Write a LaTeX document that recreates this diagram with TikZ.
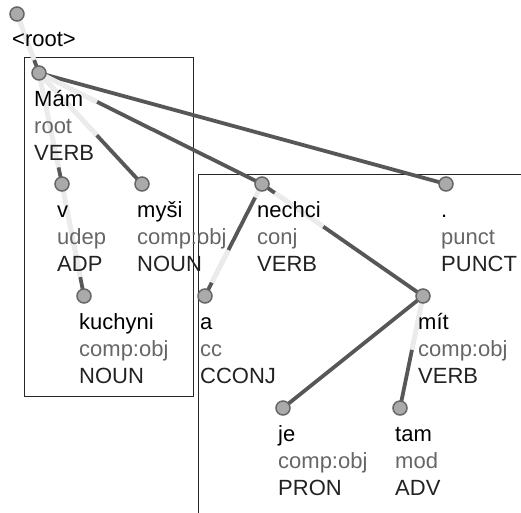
\documentclass[tikz,border=0pt]{standalone}
\usepackage{fontspec}
\setmainfont{Liberation Sans}
\usetikzlibrary{calc}

\definecolor{edgegray}{HTML}{575757}
\definecolor{halogray}{HTML}{EBEBEB}
\definecolor{tokfill}{HTML}{AAAAAA}
\definecolor{tokline}{HTML}{666666}
\definecolor{relgray}{HTML}{666666}
\definecolor{posgray}{HTML}{222222}

\tikzset{
  tok/.style={circle,fill=tokfill,draw=tokline,line width=1.5pt,minimum size=14pt,inner sep=0pt},
  dep/.style={edgegray,line width=3.8pt},
  halo/.style={halogray,line width=4.8pt},
  lbl/.style={anchor=base west,inner sep=0pt,font=\fontsize{22}{27}\selectfont},
  word/.style={lbl,text=black},
  rel/.style={lbl,text=relgray},
  upos/.style={lbl,text=posgray},
  frame/.style={draw=black!85,line width=1pt}
}

\begin{document}
\begin{tikzpicture}[x=1pt,y=-1pt]
\useasboundingbox (0,0) rectangle (521,512);

% subtree frames
\draw[frame] (24,57) rectangle (193,396);
\draw[frame] (198,174) rectangle (530,520);

% tokens
\coordinate (root) at (17,14);
\coordinate (mam) at (39,73);
\coordinate (v) at (62,184);
\coordinate (mysi) at (142,184);
\coordinate (nechci) at (262,184);
\coordinate (punct) at (446,184);
\coordinate (kuchyni) at (84,296);
\coordinate (a) at (205,296);
\coordinate (mit) at (423,296);
\coordinate (je) at (283,408);
\coordinate (tam) at (400,408);

% dependencies
\draw[dep] (root) -- (mam);
\draw[dep] (mam) -- (v);
\draw[dep] (mam) -- (mysi);
\draw[dep] (mam) -- (nechci);
\draw[dep] (mam) -- (punct);
\draw[dep] (v) -- (kuchyni);
\draw[dep] (nechci) -- (a);
\draw[dep] (nechci) -- (mit);
\draw[dep] (mit) -- (je);
\draw[dep] (mit) -- (tam);

% light parts under the labels
\draw[halo] (root) -- ($(root)!0.78!(mam)$);
\draw[halo] (mam) -- ($(mam)!0.85!(v)$);
\draw[halo] (mam) -- ($(mam)!0.56!(mysi)$);
\draw[halo] (mam) -- ($(mam)!0.26!(nechci)$);
\draw[halo] (v) -- ($(v)!0.83!(kuchyni)$);
\draw[halo] (nechci) -- ($(nechci)!0.12!(a)$);
\draw[halo] ($(nechci)!0.59!(a)$) -- ($(nechci)!0.88!(a)$);
\draw[halo] ($(nechci)!0.08!(mit)$) -- ($(nechci)!0.38!(mit)$);
\draw[halo] (mit) -- ($(mit)!0.48!(tam)$);

\foreach \t in {root,mam,v,mysi,nechci,punct,kuchyni,a,mit,je,tam}
  \node[tok] (\t-dot) at (\t) {};

% labels
\node[word] (root-w) at (12,46) {\textless root\textgreater};

\node[word] (mam-w) at (34,106) {Mám};
\node[rel] (mam-r) at (34,133) {root};
\node[upos] (mam-p) at (34,160) {VERB};

\node[word] (v-w) at (57,217) {v};
\node[rel] (v-r) at (57,244) {udep};
\node[upos] (v-p) at (57,271) {ADP};

\node[word] (mysi-w) at (137,217) {myši};
\node[rel] (mysi-r) at (137,244) {comp:obj};
\node[upos] (mysi-p) at (137,271) {NOUN};

\node[word] (nechci-w) at (257,217) {nechci};
\node[rel] (nechci-r) at (257,244) {conj};
\node[upos] (nechci-p) at (257,271) {VERB};

\node[word] (punct-w) at (441,217) {.};
\node[rel] (punct-r) at (441,244) {punct};
\node[upos] (punct-p) at (441,271) {PUNCT};

\node[word] (kuchyni-w) at (79,329) {kuchyni};
\node[rel] (kuchyni-r) at (79,356) {comp:obj};
\node[upos] (kuchyni-p) at (79,383) {NOUN};

\node[word] (a-w) at (200,329) {a};
\node[rel] (a-r) at (200,356) {cc};
\node[upos] (a-p) at (200,383) {CCONJ};

\node[word] (mit-w) at (418,329) {mít};
\node[rel] (mit-r) at (418,356) {comp:obj};
\node[upos] (mit-p) at (418,383) {VERB};

\node[word] (je-w) at (278,441) {je};
\node[rel] (je-r) at (278,468) {comp:obj};
\node[upos] (je-p) at (278,495) {PRON};

\node[word] (tam-w) at (395,441) {tam};
\node[rel] (tam-r) at (395,468) {mod};
\node[upos] (tam-p) at (395,495) {ADV};
\end{tikzpicture}
\end{document}
